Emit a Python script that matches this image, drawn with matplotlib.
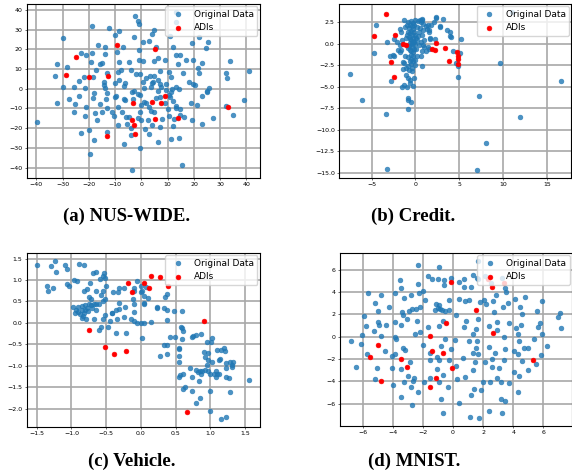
import numpy as np
import matplotlib
matplotlib.use('Agg')
import matplotlib.pyplot as plt

plt.rcParams['axes.grid'] = True
plt.rcParams['grid.color'] = '#a8a8a8'
plt.rcParams['grid.linewidth'] = 1.2

# (a) NUS-WIDE
nus_orig = [(-2.3, 36.8), (-1.5, 34.2), (-1.0, 33.0), (-19, 32), (-12.3, 30.6), (-8.5, 29), (3.9, 27.9),
            (4.8, 30), (10.8, 26.9), (13.3, 39), (13.3, 33.7), (22, 26.4), (-29.8, 25.9), (-2.7, 26.4),
            (0.6, 23.5), (2.8, 24.2), (-13.8, 20.9), (-7, 21.3), (-16.5, 22.3), (-9.9, 27.4), (5.7, 21.3),
            (12, 20.9), (19.4, 23), (25.4, 23.8), (24.4, 20.6), (-0.9, 19.7), (-23.1, 17.9), (-21.3, 17.2),
            (-18.7, 18), (-14, 17.5), (-9.5, 18.7), (-19.3, 13.6), (-15.9, 12.4), (-14.9, 12.8), (-28.2, 10.9),
            (-32, 12.3), (-8.5, 13.3), (-4.6, 13.6), (-0.9, 14.6), (0.6, 13.8), (4.7, 13.8), (6.3, 15.7),
            (9.1, 14.5), (13.3, 17), (14.6, 17.2), (16.9, 14.5), (19.7, 14.6), (13.8, 12.6), (22.9, 12.9),
            (21.5, 10.4), (21.8, 8.2), (33.7, 13.8), (32.1, 8), (32.5, 5.4), (41, 8.9), (-13.3, 7.8),
            (-7.6, 9.7), (-8.9, 8.5), (-17.3, 9.5), (-3.8, 9.4), (-2.2, 7.3), (-0.6, 7.5), (1.9, 5.6),
            (3.2, 6.6), (4.8, 6.6), (7, 8.9), (10.5, 8.5), (11.4, 5.8), (15.9, 7.8), (-18.5, 6),
            (-23.7, 4.1), (-21.8, 5.8), (-32.9, 6.5), (-30, 1), (-25.8, 1), (-21.6, 0.5), (-14.2, 3.4),
            (-14.3, 1.7), (-13.7, 0.3), (-10, 3), (-8.5, 4.6), (-6.2, 2.7), (-6.5, 1.4), (-2.8, -1),
            (0.6, 3.4), (0.9, 0.5), (3.8, 0.7), (4.3, 3.4), (6.3, 4.3), (7.6, 1), (9.5, 2.2), (11.8, 0),
            (13.1, 1), (18.2, 3.4), (19.7, 2.2), (20.3, 1.7), (25.7, 0.5), (25, -1), (23, -3.7),
            (-27.6, -5.4), (-25.4, -7.5), (-23.9, -3.7), (-18, -2), (-18.3, -4.9), (-15.6, -7.7),
            (-13.6, -5.4), (-13, -2.4), (-10.2, -4.1), (-9.6, -3.8), (-8.9, -9.2), (-6.7, -5.4), (-6.1, -5.8),
            (-3.5, -1.4), (-3.2, -5.4), (-0.6, -3.1), (0, -8), (1.9, -7.1), (2.8, -9), (3.6, -11.4),
            (5.7, -4.8), (7.2, -4.1), (9.1, -7.1), (10.2, -10.2), (11, -4.3), (12, -6.3), (13, -8.5),
            (14.6, -10.2), (14.6, -13.1), (10.5, -14), (12.3, -15.1), (7.9, -15.3), (4.8, -11.9),
            (2.5, -16), (4.2, -18.2), (7, -19.6), (12, -18.7), (16.3, -14.3), (19.2, -15.7), (18.8, -7.1),
            (21.1, -8.2), (24.8, -1.4), (23.1, -17.9), (27.3, -14.8), (32.3, -8.5), (34.8, -13.4),
            (39.1, -5.8), (-39.6, -17), (-32, -7.1), (-25.8, -11.9), (-21.5, -13.8), (-21, -9.2),
            (-17.1, -15.7), (-17.5, -12.3), (-15.2, -11.7), (-13, -10), (-11.2, -11.7), (-10.5, -14),
            (-9.1, -18.4), (-7.4, -11.6), (-5.8, -14.3), (-5.5, -17.7), (-4.8, -14.3), (-4.1, -19.9),
            (-4.1, -23.3), (-1.5, -15), (-0.6, -11.9), (0, -16), (1.5, -20.4), (2.9, -22.8), (6.3, -27.2),
            (11.4, -25.5), (14.3, -24.7), (15.6, -38.8), (-13.3, -22.1), (-18, -26.2), (-19.9, -21.1),
            (-23.1, -22.6), (-19.7, -33), (-6.7, -28.1), (-3.6, -41.2), (-0.4, -30.1), (-1.5, -2.9),
            (1, -6.6), (4.2, 2.7), (6.3, -1.2), (7, 2.2), (9.5, -0.7), (11.4, -1.9), (14.2, 0),
            (10.5, -3.3), (13.1, -9.7)]
nus_adi = [(-25, 16.2), (-28.8, 6.8), (-20, 6), (-12.7, 6.5), (-9.3, 22), (5.1, 20.1), (-3.2, -7.1),
           (4.1, -6.6), (7.6, -7.1), (9.1, -3.6), (-13, -23.7), (-3.6, -16), (-2.8, -18.2), (-2.5, -22.8),
           (5.3, -15.3), (14, -15), (33.1, -9.4)]

# (b) Credit
credit_orig = [(-7.5, -3.5), (-6.1, -6.6), (-3.4, -8.2), (-3.3, -14.6), (-4.7, -1.1), (-4.5, 2.1), (-3.2, 0.2),
               (-2.9, -1.4), (-2.4, -1.4), (-2.8, -4.4), (-1.3, -2.2), (-0.9, -7.6), (-0.8, -6.6), (-0.5, -6.8),
               (-0.2, -4.0), (7.3, -6.1), (7.0, -14.7), (8.0, -11.5), (11.9, -8.5), (9.7, -2.2), (16.6, -4.4),
               (11.0, 3.7), (5.2, 0.5), (5.1, -1.1), (4.9, -2.6), (4.8, -3.9), (4.6, -2.2), (4.3, -0.9),
               (4.0, 0.9), (3.6, 1.6), (4.0, 1.4), (3.2, 2.9), (2.8, 2.0), (2.4, 3.1), (2.1, 2.5), (2.2, 0.5),
               (1.5, -0.6), (1.4, -0.4), (0.8, -2.6), (0.6, -1.4), (0.7, -0.9), (1.0, -0.4), (1.0, 0.4),
               (1.7, 0.5), (1.5, 1.3), (1.6, 1.6), (1.4, 2.1), (0.8, 2.7), (0.5, 2.7), (-1.3, 2.7), (-1.8, 1.7),
               (-1.6, 1.4), (-2.4, 0.5), (-2.1, 0.2), (-1.8, -0.2), (-2.0, -0.8), (-1.8, -1.0), (-1.5, 0.4),
               (-1.0, 1.0), (-0.6, 0.5), (-1.1, -2.8), (-1.1, -3.6), (-0.8, -4.0), (-0.4, -3.2), (-1.3, -4.8),
               (-1.0, -5.1), (-0.6, -4.6), (-0.3, -4.9), (-0.6, -4.2), (-0.5, -2.4), (-0.5, -1.8), (-0.5, -1.3),
               (-0.6, -0.8), (-0.3, -1.0), (-0.4, -0.4), (0.1, 0.7), (-0.5, 2.6), (-0.3, 2.4), (-0.6, 2.2),
               (-0.4, 2.0), (-0.7, 1.8), (-0.3, 1.7), (-0.5, 1.5), (-0.2, 1.3), (-0.6, 1.2), (-0.4, 1.0),
               (-0.7, 0.8), (-0.3, 0.7), (-0.5, 0.4), (-0.2, 0.2), (-0.6, 0.1), (-0.4, -0.1), (-0.7, -0.3),
               (-0.2, -0.6), (-0.5, -0.9), (-0.3, -1.5), (-0.6, -2.0), (-0.4, -2.8), (-0.7, -3.1), (-0.9, -2.6),
               (0.0, 2.7), (0.3, 2.6), (0.6, 2.5), (0.9, 2.3), (1.2, 2.0), (1.3, 1.7), (0.9, 1.6), (0.7, 1.0),
               (0.4, 1.3), (-0.2, 2.2), (-0.8, 2.5), (-1.0, 2.2), (-0.3, 0.2), (0.0, 0.0), (0.4, -0.2),
               (0.6, 0.2), (0.2, -1.4), (0.1, -0.6), (-0.3, -2.0), (0.7, 2.8), (1.8, 2.2), (1.7, 0.7),
               (2.3, 3.0), (2.8, 1.9), (4.1, 0.8), (1.2, -0.9), (0.9, -0.2), (-1.4, -2.1), (-1.4, -3.0),
               (-1.5, -5.0), (-2.6, -1.3), (-1.7, -0.7), (-0.8, -6.3), (-1.2, 1.9), (-0.9, 1.4), (-1.1, 0.6),
               (-0.9, -0.5), (-1.2, -1.4), (0.2, 1.9), (0.5, 1.8), (0.3, 0.9), (0.0, -1.9), (-0.1, -2.5),
               (-0.8, -1.6), (-0.1, 1.0), (0.2, 0.4)]
credit_adi = [(-3.4, 3.4), (-4.7, 0.9), (-2.3, 1.0), (-1.4, 0.0), (-1.1, -0.2), (-2.8, -2.1), (-2.5, -3.9),
              (2.3, 0.1), (1.9, -0.6), (2.2, -0.7), (3.4, -0.5), (3.8, -2.0), (4.7, -1.0), (4.8, -1.8),
              (4.9, -1.5), (4.9, -2.4)]

# (c) Vehicle
vehicle_orig = [(-1.49, 1.34), (-1.3, 1.32), (-1.24, 1.45), (-1.23, 1.18), (-1.09, 1.34), (-1.07, 1.25),
                (-0.89, 1.38), (-0.82, 1.34), (-1.35, 0.87), (-1.34, 0.74), (-1.26, 0.82), (-1.07, 0.9),
                (-1.04, 0.86), (-0.97, 1.0), (-0.92, 0.98), (-0.82, 0.75), (-0.77, 0.78), (-0.74, 0.92),
                (-0.69, 1.16), (-0.65, 1.18), (-0.54, 1.1), (-0.53, 1.16), (-0.52, 1.05), (-0.5, 0.85),
                (-0.59, 1.03), (-0.64, 0.74), (-0.75, 0.61), (-0.72, 0.55), (-0.55, 0.74), (-0.58, 0.65),
                (-0.55, 0.5), (-0.52, 0.55), (-0.6, 0.45), (-0.68, 0.45), (-0.75, 0.45), (-0.8, 0.42),
                (-0.85, 0.4), (-0.9, 0.38), (-0.98, 0.37), (-0.93, 0.3), (-0.9, 0.25), (-0.85, 0.3),
                (-0.82, 0.22), (-0.88, 0.2), (-0.95, 0.22), (-0.78, 0.35), (-0.7, 0.35), (-0.72, 0.42),
                (-0.65, 0.45), (-0.64, 0.3), (-0.79, 0.1), (-0.68, 0.08), (-0.6, -0.16), (-0.58, -0.1),
                (-0.52, 0.19), (-0.55, 0.08), (-0.48, -0.1), (-0.45, 0.05), (-0.41, 0.23), (-0.36, 0.31),
                (-0.35, 0.09), (-0.36, -0.24), (-0.24, 0.13), (-0.22, -0.23), (-0.23, 0.38), (-0.31, 0.33),
                (-0.31, 0.47), (-0.4, 0.72), (-0.33, 0.73), (-0.32, 0.82), (-0.25, 0.82), (-0.42, 0.22),
                (-0.1, 0.26), (-0.14, 0.09), (-0.1, 0.05), (-0.05, 0.0), (0.0, 0.0), (0.05, 0.0), (0.02, -0.36),
                (0.15, 0.03), (-0.11, 0.56), (-0.1, 0.45), (0.04, 0.47), (0.05, 0.44), (0.1, 0.57),
                (-0.1, 0.82), (-0.1, 0.75), (0.0, 0.72), (0.05, 0.63), (0.02, 0.75), (-0.05, 0.97),
                (0.0, 0.86), (0.08, 0.84), (0.23, 0.38), (0.23, 0.34), (0.34, 0.34), (0.37, 0.3), (0.38, 0.07),
                (0.35, 0.6), (0.37, 0.68), (0.48, 0.27), (0.59, 0.28), (0.58, -0.1), (0.6, -0.13), (0.61, -0.19),
                (0.59, -0.37), (0.42, -0.32), (0.49, -0.33), (0.34, -0.51), (0.37, -0.52), (0.38, -0.72),
                (0.27, -0.76), (0.55, -0.58), (0.55, -0.61), (0.55, -0.78), (0.55, -0.92), (0.55, -1.25),
                (0.56, -1.21), (0.61, -1.19), (0.63, -1.5), (0.61, -1.55), (0.71, -1.06), (0.73, -1.27),
                (0.73, -1.58), (0.79, -1.87), (0.85, -1.74), (0.8, -1.09), (0.83, -1.15), (0.85, -1.12),
                (0.86, -1.18), (0.88, -1.13), (0.92, -1.1), (0.84, -1.35), (0.87, -0.27), (0.8, -0.28),
                (0.75, -0.31), (0.73, -0.33), (0.96, -0.45), (1.02, -0.35), (1.01, -0.45), (0.91, -0.68),
                (0.92, -0.8), (0.97, -0.87), (0.97, -0.7), (1.02, -0.9), (0.95, -0.98), (0.97, -1.13),
                (1.1, -0.62), (1.15, -0.64), (1.2, -0.58), (1.21, -0.65), (1.14, -0.84), (1.12, -0.86),
                (1.23, -0.93), (1.29, -0.92), (1.33, -0.9), (1.31, -0.99), (1.32, -1.03), (1.23, -1.04),
                (1.09, -1.13), (1.06, -1.2), (1.1, -1.18), (1.08, -1.25), (1.13, -1.18), (1.0, -1.18),
                (1.22, -1.27), (1.27, -1.29), (1.29, -1.62), (0.99, -1.59), (0.99, -2.06), (1.15, -2.24),
                (1.22, -2.2), (1.56, -1.33), (-0.83, 0.16), (-0.85, 0.12), (-0.8, 0.3), (-0.76, 0.28)]
vehicle_adi = [(-0.18, 0.93), (-0.13, 0.72), (0.05, 0.92), (0.12, 0.81), (0.14, 1.1), (0.28, 1.07),
               (0.39, 0.87), (0.91, 0.04), (-0.75, -0.16), (-0.51, -0.56), (-0.38, -0.73), (-0.21, -0.65),
               (0.66, -2.08)]

# (d) MNIST
mnist_orig = [(-6.78, -0.43), (-6.45, -2.68), (-6.06, 0.15), (-6.12, -0.64), (-5.93, 1.89), (-5.75, 0.98),
              (-5.7, -1.55), (-5.62, 3.87), (-5.24, 0.55), (-5.18, 3.05), (-5.2, -3.75), (-5.04, -2.8),
              (-4.96, 2.32), (-4.96, 1.34), (-4.92, 1.05), (-4.8, 3.72), (-4.78, 0.06), (-4.54, -1.31),
              (-4.43, 1.04), (-4.25, 2.68), (-3.85, 3.87), (-3.85, 1.31), (-4.03, -1.71), (-3.88, -1.55),
              (-3.81, -0.24), (-3.85, -0.05), (-4.07, -2.77), (-3.99, -4.3), (-3.5, 5.09), (-3.48, 4.39),
              (-3.41, 2.2), (-3.3, 1.95), (-3.44, 1.04), (-3.26, 3.48), (-3.33, -1.04), (-3.19, -1.19),
              (-3.48, -2.87), (-3.48, -5.37), (-3.26, -4.09), (-3.08, 1.59), (-2.93, 2.32), (-2.75, 2.5),
              (-2.82, 3.69), (-2.86, -2.29), (-3.02, -3.48), (-2.82, -4.51), (-2.6, -3.72), (-2.66, -4.0),
              (-2.69, -6.07), (-2.53, 0.27), (-2.44, 2.5), (-2.33, 6.37), (-2.33, 4.7), (-2.27, 3.87),
              (-2.38, 1.43), (-2.16, 0.43), (-2.33, -4.94), (-2.16, 2.65), (-1.98, 4.09), (-1.98, -0.79),
              (-1.94, -4.09), (-1.87, 3.32), (-1.67, 5.4), (-1.65, 0.85), (-1.56, -1.46), (-1.56, -2.13),
              (-1.56, -3.69), (-1.39, 5.12), (-1.21, 2.38), (-1.1, 2.93), (-0.9, 2.87), (-1.01, 2.55),
              (-0.84, 2.5), (-0.99, 5.12), (-0.95, 6.22), (-0.95, 0.95), (-1.06, -2.87), (-1.06, -1.86),
              (-0.9, -2.13), (-0.9, -4.09), (-0.81, -5.58), (-0.77, -0.88), (-0.68, 1.43), (-0.68, -6.83),
              (-0.73, 2.4), (-0.57, 4.6), (-0.57, 5.09), (-0.51, 2.26), (-0.55, -0.18), (-0.64, -3.41),
              (-0.29, 2.35), (-0.29, 3.26), (-0.29, -2.13), (-0.33, -4.51), (-0.13, -1.1), (-0.13, 5.21),
              (0.11, -0.34), (0.22, 1.95), (0.22, -2.62), (0.26, -3.75), (0.37, 3.41), (0.42, 4.85),
              (0.4, -5.95), (0.7, 5.12), (0.77, 3.17), (0.7, 0.82), (0.66, -1.92), (0.75, 4.48), (0.81, -3.6),
              (0.88, 1.4), (1.04, 3.26), (1.04, -0.4), (1.15, -7.23), (1.21, 4.48), (1.3, 5.49), (1.3, 0.24),
              (1.32, -1.49), (1.34, -2.96), (1.43, -2.26), (1.19, -5.21), (1.39, -4.66), (1.59, -0.37),
              (1.54, 0.67), (1.65, 1.55), (1.52, -1.04), (1.7, -7.29), (1.76, 3.11), (1.63, -1.55),
              (1.87, -4.76), (1.59, 5.21), (1.65, 6.8), (2.09, 3.32), (2.2, 2.96), (2.14, -2.23), (1.98, -4.06),
              (2.42, 0.98), (2.42, -0.91), (2.36, -6.65), (2.47, -4.06), (2.73, 2.17), (2.64, 3.17),
              (2.58, -2.01), (2.62, -2.68), (2.93, 0.61), (2.8, -1.46), (2.93, 1.34), (2.84, 3.75),
              (2.95, -3.69), (3.06, -2.8), (2.53, 4.82), (2.14, 5.46), (3.3, 2.65), (3.46, 4.39), (3.28, 5.21),
              (3.19, -4.09), (3.37, -2.07), (3.19, -5.61), (3.46, -5.76), (3.28, -6.86), (3.41, -0.03),
              (3.46, -1.1), (3.72, 1.22), (3.63, 3.02), (3.72, -4.15), (3.52, 4.02), (4.03, -3.14),
              (4.12, 3.38), (4.19, 0.79), (4.05, -1.28), (4.3, 0.21), (4.3, -1.59), (4.45, 2.65),
              (4.41, -0.37), (4.41, -3.54), (4.34, -4.94), (4.56, 2.04), (4.54, 1.04), (4.56, -2.2),
              (4.78, 3.57), (4.71, -1.04), (4.96, -2.96), (5.0, -1.04), (5.4, -0.18), (5.48, -2.44),
              (5.55, 2.26), (5.64, 0.88), (5.75, 1.19), (5.84, -1.65), (5.93, 0.24), (5.93, 3.17),
              (6.23, -0.88), (6.98, 1.8), (7.09, 2.13), (7.2, 0.73), (1.65, 5.15)]
mnist_adi = [(-0.11, 4.85), (2.29, 5.12), (2.62, 4.48), (3.41, 4.76), (1.5, 2.41), (-0.44, 1.19), (2.64, 0.37),
             (-1.54, 0.03), (-1.37, -1.25), (-0.68, -1.46), (-0.07, -2.8), (-1.1, -3.69), (-1.56, -4.54),
             (-3.44, -1.98), (-3.08, -2.74), (-4.98, -0.76), (-5.51, -1.8), (-4.8, -3.96), (5.33, -2.13)]

captions = ['(a) NUS-WIDE.', '(b) Credit.', '(c) Vehicle.', '(d) MNIST.']

fig = plt.figure(figsize=(5.72, 4.76), dpi=100)

# posicoes dos eixos (fracao da figura)
rects = [[0.047, 0.626, 0.407, 0.366],
         [0.593, 0.626, 0.406, 0.366],
         [0.047, 0.103, 0.407, 0.366],
         [0.595, 0.105, 0.405, 0.364]]
cap_pos = [(127, 216), (413, 216), (132, 461), (414, 461)]

dados = [(nus_orig, nus_adi, [-40, -30, -20, -10, 0, 10, 20, 30, 40], [-40, -30, -20, -10, 0, 10, 20, 30, 40]),
         (credit_orig, credit_adi, [-5, 0, 5, 10, 15], [-15, -12.5, -10, -7.5, -5, -2.5, 0, 2.5]),
         (vehicle_orig, vehicle_adi, [-1.5, -1, -0.5, 0, 0.5, 1, 1.5], [-2, -1.5, -1, -0.5, 0, 0.5, 1, 1.5]),
         (mnist_orig, mnist_adi, [-6, -4, -2, 0, 2, 4, 6], [-8, -6, -4, -2, 0, 2, 4, 6])]

for k in range(4):
    orig, adi, xt, yt = dados[k]
    ax = fig.add_axes(rects[k])
    o = np.array(orig)
    a = np.array(adi)
    ax.set_xticks(xt)
    ax.set_yticks(yt)
    ax.grid(True)
    ax.scatter(o[:, 0], o[:, 1], s=12, c='#1f77b4', alpha=0.8, linewidths=0.4,
               label='Original Data', zorder=2)
    ax.scatter(a[:, 0], a[:, 1], s=12, c='red', linewidths=0.4, label='ADIs', zorder=2)
    ax.tick_params(labelsize=4.5, length=1.7, width=0.4, pad=1.5)
    ax.legend(loc='upper right', fontsize=6.5, borderaxespad=0.25)
    fig.text(cap_pos[k][0] / 572, 1 - cap_pos[k][1] / 476, captions[k], ha='center', va='center',
             family='Liberation Serif', fontweight='bold', fontsize=13.5)

fig.savefig('out.png', dpi=100)
